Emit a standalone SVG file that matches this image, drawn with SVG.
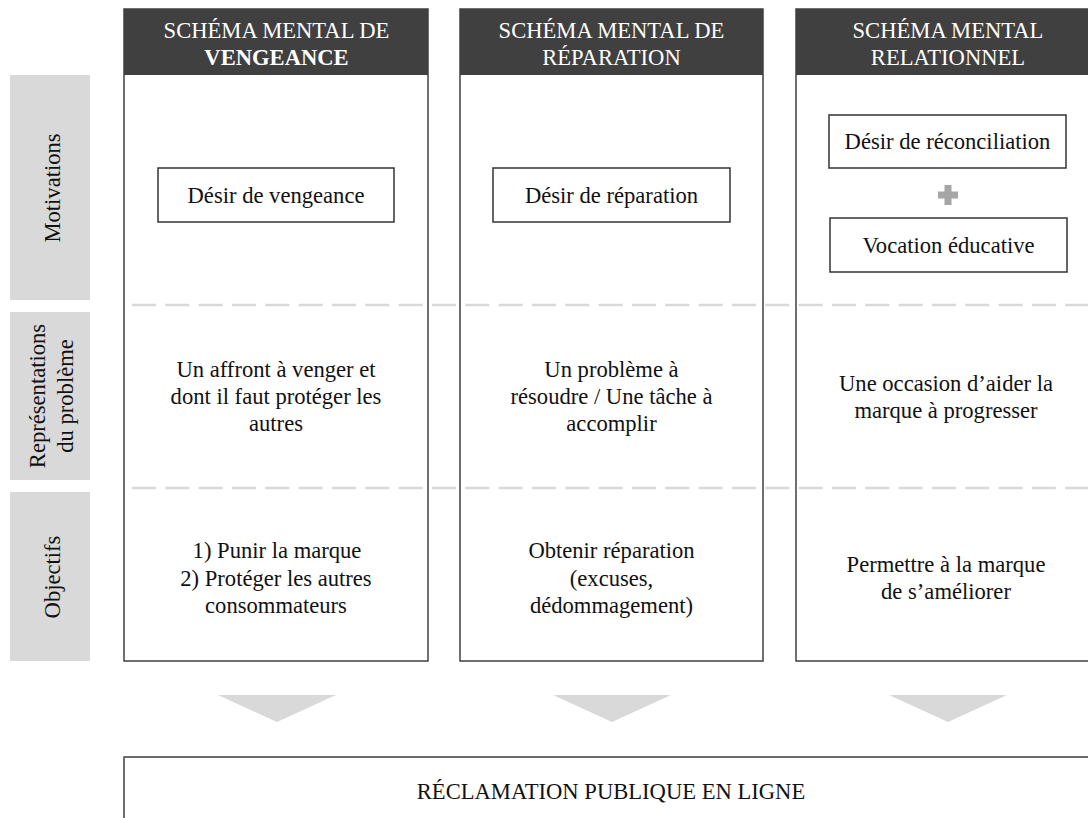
<svg xmlns="http://www.w3.org/2000/svg" width="1088" height="818" viewBox="0 0 1088 818">
<style>
text{font-family:"Liberation Serif","Times New Roman",serif;font-size:22.6px;fill:#111111;text-anchor:middle}
.hd{fill:#ffffff}
.b{font-weight:bold}
.col{fill:#ffffff;stroke:#404040;stroke-width:1.5}
.head{fill:#404040}
.box{fill:#ffffff;stroke:#333333;stroke-width:1.5}
.lab{fill:#d9d9d9}
.dash{stroke:#d9d9d9;stroke-width:2.5;stroke-dasharray:24 9.33;fill:none}
.arr{fill:#d9d9d9}
</style>
<rect width="1088" height="818" fill="#ffffff"/>

<g id="label-motivations">
<rect class="lab" x="10" y="75" width="80" height="225"/>
<text transform="translate(60,188) rotate(-90)">Motivations</text>
</g>
<g id="label-representations">
<rect class="lab" x="10" y="312" width="80" height="168"/>
<text transform="translate(45,396) rotate(-90)">Représentations</text>
<text transform="translate(73,396) rotate(-90)">du problème</text>
</g>
<g id="label-objectifs">
<rect class="lab" x="10" y="492" width="80" height="169"/>
<text transform="translate(60,577) rotate(-90)">Objectifs</text>
</g>

<g id="col-vengeance">
<rect class="col" x="124" y="9" width="304" height="652"/>
<rect class="head" x="124" y="9" width="304" height="66"/>
<text class="hd" x="276.5" y="38">SCHÉMA MENTAL DE</text>
<text class="hd b" x="276.5" y="65">VENGEANCE</text>
</g>
<g id="col-reparation">
<rect class="col" x="460" y="9" width="303" height="652"/>
<rect class="head" x="460" y="9" width="303" height="66"/>
<text class="hd" x="611.5" y="38">SCHÉMA MENTAL DE</text>
<text class="hd" x="611.5" y="65">RÉPARATION</text>
</g>
<g id="col-relationnel">
<rect class="col" x="796" y="9" width="304" height="652"/>
<rect class="head" x="796" y="9" width="304" height="66"/>
<text class="hd" x="948" y="38">SCHÉMA MENTAL</text>
<text class="hd" x="948" y="65">RELATIONNEL</text>
</g>

<g id="separators">
<line class="dash" x1="132" y1="305" x2="1088" y2="305"/>
<line class="dash" x1="132" y1="488" x2="1088" y2="488"/>
</g>

<g id="motiv-vengeance">
<rect class="box" x="158" y="168" width="236" height="54"/>
<text x="276" y="203">Désir de vengeance</text>
</g>
<g id="motiv-reparation">
<rect class="box" x="493" y="168" width="237" height="54"/>
<text x="611.5" y="203">Désir de réparation</text>
</g>
<g id="motiv-reconciliation">
<rect class="box" x="829" y="115" width="237" height="53"/>
<text x="947.5" y="149">Désir de réconciliation</text>
</g>
<g id="plus">
<path d="M944.5,185h7v6.5h6.5v7h-6.5v6.5h-7v-6.5h-6.5v-7h6.5z" fill="#a6a6a6"/>
</g>
<g id="motiv-educative">
<rect class="box" x="830" y="218" width="237" height="54"/>
<text x="948.5" y="253">Vocation éducative</text>
</g>

<g id="repr-vengeance">
<text x="276" y="377">Un affront à venger et</text>
<text x="276" y="404">dont il faut protéger les</text>
<text x="276" y="431">autres</text>
</g>
<g id="repr-reparation">
<text x="611.5" y="377">Un problème à</text>
<text x="611.5" y="404">résoudre / Une tâche à</text>
<text x="611.5" y="431">accomplir</text>
</g>
<g id="repr-relationnel">
<text x="946" y="391">Une occasion d’aider la</text>
<text x="946" y="418">marque à progresser</text>
</g>

<g id="obj-vengeance">
<text x="277" y="558">1) Punir la marque</text>
<text x="276" y="586">2) Protéger les autres</text>
<text x="276" y="613">consommateurs</text>
</g>
<g id="obj-reparation">
<text x="611.5" y="558">Obtenir réparation</text>
<text x="611.5" y="586">(excuses,</text>
<text x="611.5" y="613">dédommagement)</text>
</g>
<g id="obj-relationnel">
<text x="946" y="572">Permettre à la marque</text>
<text x="946" y="599">de s’améliorer</text>
</g>

<g id="connectors">
<polygon class="arr" points="218,695 336,695 277,722"/>
<polygon class="arr" points="553,695 671,695 612,722"/>
<polygon class="arr" points="889,695 1007,695 948,722"/>
</g>

<g id="reclamation">
<rect class="col" x="124" y="757" width="976" height="80"/>
<line x1="124" y1="757" x2="1100" y2="757" stroke="#6b6b6b" stroke-width="2"/>
<text x="611" y="799">RÉCLAMATION PUBLIQUE EN LIGNE</text>
</g>
</svg>
